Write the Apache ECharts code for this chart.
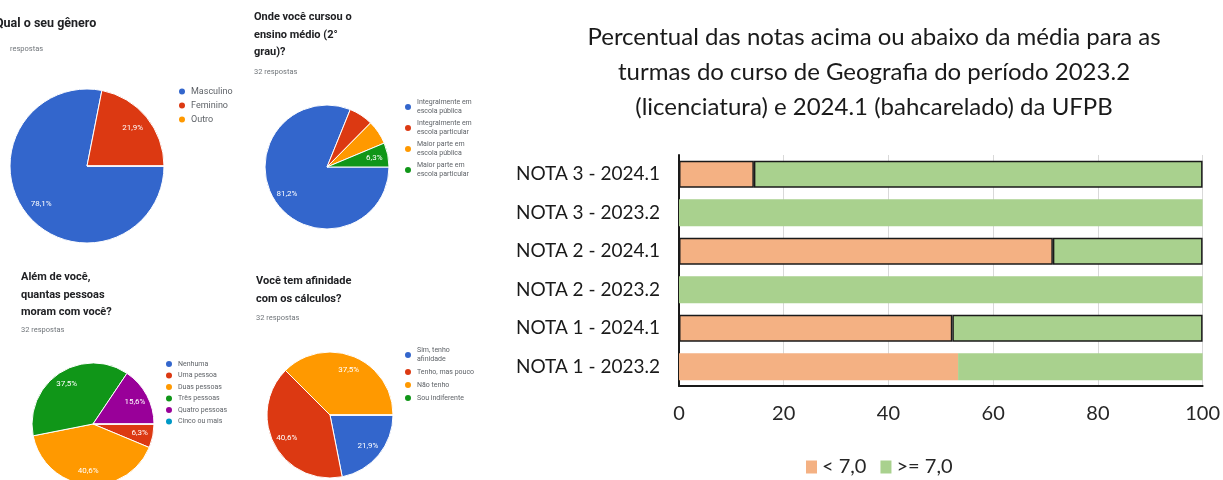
<!DOCTYPE html>
<html>
<head>
<meta charset="UTF-8">
<title>Questionário e notas - Geografia UFPB</title>
<script type="text/javascript" src="https://cdn.jsdelivr.net/npm/echarts@6/dist/echarts.min.js"></script>
</head>
<body style="margin: 0; background: #fff;">
<div id="container" style="width: 1223px; height: 480px;"></div>
<script type="text/javascript">
var dom = document.getElementById('container');
var myChart = echarts.init(dom);

// barras (de cima para baixo)
var notas = ['NOTA 3 - 2024.1', 'NOTA 3 - 2023.2', 'NOTA 2 - 2024.1', 'NOTA 2 - 2023.2', 'NOTA 1 - 2024.1', 'NOTA 1 - 2023.2'];
var abaixo = [14.3, 0, 71.4, 0, 52.2, 53.3];
var acima = [85.7, 100, 28.6, 100, 47.8, 46.7];

// pizzas do formulario
var generoNomes = ['Masculino', 'Feminino', 'Outro'];
var generoPct = [78.1, 21.9, 0];
var ensinoNomes = ['Integralmente em escola pública', 'Integralmente em escola particular', 'Maior parte em escola pública', 'Maior parte em escola particular'];
var ensinoPct = [81.2, 6.3, 6.3, 6.3];
var moramNomes = ['Nenhuma', 'Uma pessoa', 'Duas pessoas', 'Três pessoas', 'Quatro pessoas', 'Cinco ou mais'];
var moramPct = [0, 6.3, 40.6, 37.5, 15.6, 0];
var calculoNomes = ['Sim, tenho afinidade', 'Tenho, mas pouco', 'Não tenho', 'Sou indiferente'];
var calculoPct = [21.9, 40.6, 37.5, 0];
// fatias pequenas sem rotulo no original
var semRotulo = ['Integralmente em escola particular', 'Maior parte em escola pública'];

var cores = ['#3366cc', '#dc3912', '#ff9900', '#109618', '#990099', '#0099c6'];
var cinza = '#5f6368';

function quebra(nome) {
  var linhas = [], atual = '';
  nome.split(' ').forEach(function (p) {
    if (atual && (atual + ' ' + p).length > 17) { linhas.push(atual); atual = p; }
    else atual = atual ? atual + ' ' + p : p;
  });
  linhas.push(atual);
  return linhas.join('\n');
}

function pizza(nomes, pcts, centro, raio) {
  var dados = nomes.map(function (n, i) {
    return { name: n, value: pcts[i], itemStyle: { color: cores[i] } };
  });
  var rotulos = nomes.map(function (n, i) { return { name: n, value: pcts[i] }; });
  return [
    {
      type: 'pie', center: centro, radius: raio, startAngle: 0, clockwise: true,
      data: dados, silent: true,
      itemStyle: { borderColor: '#fff', borderWidth: 1 },
      label: { show: false }, labelLine: { show: false }
    },
    {
      type: 'pie', center: centro, radius: [raio * 0.46, raio], startAngle: 0, clockwise: true,
      data: rotulos, silent: true, legendHoverLink: false,
      itemStyle: { color: 'transparent', borderWidth: 0 },
      label: {
        show: true, position: 'inside', color: '#fff', fontSize: 8, fontFamily: 'Roboto',
        formatter: function (p) {
          if (!(p.value > 0) || semRotulo.indexOf(p.name) >= 0) return '';
          return String(p.value).replace('.', ',') + '%';
        }
      },
      labelLine: { show: false }
    }
  ];
}

function legendaPizza(nomes, left, top, gap, tam, alt) {
  return {
    data: nomes, orient: 'vertical', left: left, top: top, padding: 0, icon: 'circle',
    itemWidth: 8, itemHeight: 8, itemGap: gap, selectedMode: false,
    formatter: quebra,
    textStyle: { fontSize: tam, lineHeight: alt, color: cinza, fontFamily: 'Roboto' }
  };
}

function tituloPizza(texto, left, top) {
  return {
    text: texto, left: left, top: top, padding: 0,
    textStyle: { fontSize: 11, lineHeight: 17.5, fontWeight: 'bold', color: '#202124', fontFamily: 'Roboto' }
  };
}

function respostas(texto, left, top) {
  return {
    text: texto, left: left, top: top, padding: 0,
    textStyle: { fontSize: 7.5, fontWeight: 'normal', color: '#70757a', fontFamily: 'Roboto' }
  };
}

function borda(i) {
  return notas[i].indexOf('2024.1') >= 0 ? { borderColor: '#1a1a1a', borderWidth: 1.5 } : {};
}

var fonteBarra = 'Lato';

var option = {
  backgroundColor: '#fff',
  animation: false,
  // titulo da primeira pergunta cortado na borda esquerda, como no recorte original
  graphic: [
    {
      type: 'text', x: -5, y: 17,
      style: { text: 'Qual o seu gênero', font: 'bold 12.5px Roboto', fill: '#202124' }
    }
  ],
  title: [
    {
      text: 'Percentual das notas acima ou abaixo da média para as\nturmas do curso de Geografia do período 2023.2\n(licenciatura) e 2024.1 (bahcarelado) da UFPB',
      left: 874, top: 20, padding: 0, textAlign: 'center',
      textStyle: { fontSize: 24, lineHeight: 35, fontWeight: 'normal', color: '#1a1a1a', fontFamily: fonteBarra }
    },
    respostas('respostas', 10, 45),
    tituloPizza('Onde você cursou o\nensino médio (2°\ngrau)?', 254, 8.5),
    respostas('32 respostas', 254, 68),
    tituloPizza('Além de você,\nquantas pessoas\nmoram com você?', 21, 268.5),
    respostas('32 respostas', 21, 326),
    tituloPizza('Você tem afinidade\ncom os cálculos?', 256, 272.5),
    respostas('32 respostas', 256, 314)
  ],
  legend: [
    legendaPizza(generoNomes, 177, 86, 3, 9, 11),
    legendaPizza(ensinoNomes, 403, 98, 3, 7, 9),
    legendaPizza(moramNomes, 164, 359, 1.5, 7, 9),
    legendaPizza(calculoNomes, 403, 346, 3, 7, 9),
    {
      data: ['< 7,0', '>= 7,0'], left: 806, top: 457, padding: 0, icon: 'rect',
      itemWidth: 11, itemHeight: 13, itemGap: 14, selectedMode: false,
      textStyle: { fontSize: 20, color: '#262626', fontFamily: fonteBarra }
    }
  ],
  grid: { left: 679, right: 18, top: 155, bottom: 94 },
  xAxis: {
    type: 'value', min: 0, max: 100, interval: 20,
    axisLine: { show: true, lineStyle: { color: '#1a1a1a', width: 2 } },
    axisTick: { show: false },
    splitLine: { lineStyle: { color: '#d9d9d9', width: 1 } },
    axisLabel: { fontSize: 20, color: '#262626', margin: 18, fontFamily: fonteBarra }
  },
  yAxis: {
    type: 'category', inverse: true, data: notas,
    axisLine: { show: true, lineStyle: { color: '#1a1a1a', width: 2 } },
    axisTick: { show: false },
    axisLabel: { fontSize: 19, color: '#1a1a1a', margin: 19, fontFamily: fonteBarra }
  },
  series: [
    {
      type: 'bar', name: '< 7,0', stack: 'total', barWidth: 27,
      itemStyle: { color: '#f4b183' },
      data: abaixo.map(function (v, i) { return { value: v, itemStyle: borda(i) }; })
    },
    {
      type: 'bar', name: '>= 7,0', stack: 'total', barWidth: 27,
      itemStyle: { color: '#a9d18e' },
      data: acima.map(function (v, i) { return { value: v, itemStyle: borda(i) }; })
    }
  ]
    .concat(pizza(generoNomes, generoPct, [87, 166], 77))
    .concat(pizza(ensinoNomes, ensinoPct, [327, 167], 62))
    .concat(pizza(moramNomes, moramPct, [93, 424], 61))
    .concat(pizza(calculoNomes, calculoPct, [330, 415], 63))
};

if (option && typeof option === 'object') {
  myChart.setOption(option);
}
</script>
</body>
</html>
